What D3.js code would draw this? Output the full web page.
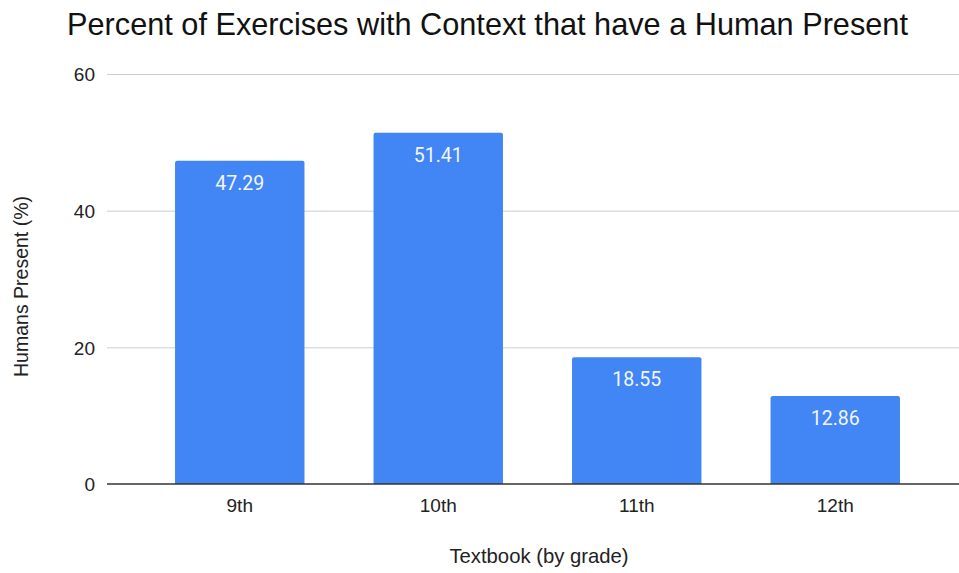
<!DOCTYPE html>
<html>
<head>
<meta charset="utf-8">
<script src="https://cdn.jsdelivr.net/npm/d3@7"></script>
<style>
  html, body { margin: 0; padding: 0; background: #fff; }
  svg { display: block; }
</style>
</head>
<body>
<svg id="chart" width="959" height="573"></svg>
<script>
// Grades and the share of context exercises that show a human
const grades = ["9th", "10th", "11th", "12th"];
const humanPresent = [47.29, 51.41, 18.55, 12.86];
const yTicks = [0, 20, 40, 60];

const W = 959, H = 573;
const plot = { left: 107, right: 959, top: 74, bottom: 484 };

const svg = d3.select("#chart");

const x = d3.scaleBand()
  .domain(grades)
  .range([140.5, 934.5])
  .paddingInner(0.348)
  .paddingOuter(0.174);

const y = d3.scaleLinear()
  .domain([0, 60])
  .range([plot.bottom, plot.top]);

// Gridlines and y tick labels
const yAxis = d3.axisLeft(y)
  .tickValues(yTicks)
  .tickSize(-(plot.right - plot.left))
  .tickPadding(12)
  .tickFormat(d3.format("d"));

const gy = svg.append("g")
  .attr("transform", `translate(${plot.left},0)`)
  .call(yAxis);
gy.select(".domain").remove();
gy.selectAll(".tick line")
  .attr("stroke", "#cccccc")
  .attr("stroke-width", 1);
gy.selectAll(".tick text")
  .attr("fill", "#222")
  .attr("font-family", "'Liberation Sans', Arial, sans-serif")
  .attr("font-size", 19)
  .attr("dy", "0.36em");
gy.selectAll(".tick").filter(d => d === 0).select("line").remove();

// Bars with slightly rounded top corners
function barPath(x0, w, yTop, yBase, r) {
  return `M${x0},${yBase}V${yTop + r}Q${x0},${yTop} ${x0 + r},${yTop}` +
         `H${x0 + w - r}Q${x0 + w},${yTop} ${x0 + w},${yTop + r}V${yBase}Z`;
}

const data = grades.map((g, i) => ({ grade: g, value: humanPresent[i] }));

svg.append("g").selectAll("path")
  .data(data)
  .join("path")
  .attr("d", d => barPath(x(d.grade), x.bandwidth(), y(d.value), y(0), 2))
  .attr("fill", "#4285f4");

// Value labels inside each bar
svg.append("g").selectAll("text")
  .data(data)
  .join("text")
  .attr("x", d => x(d.grade) + x.bandwidth() / 2)
  .attr("y", d => y(d.value) + 29)
  .attr("text-anchor", "middle")
  .attr("fill", "#f2f6ff")
  .attr("font-family", "Roboto, sans-serif")
  .attr("font-size", 19.5)
  .text(d => d.value.toFixed(2));

// Category labels under the baseline
const gx = svg.append("g")
  .attr("transform", `translate(0,${plot.bottom})`)
  .call(d3.axisBottom(x).tickSize(0).tickPadding(15));
gx.select(".domain").remove();
gx.selectAll(".tick text")
  .attr("fill", "#222")
  .attr("font-family", "'Liberation Sans', Arial, sans-serif")
  .attr("font-size", 19);

svg.append("line")
  .attr("x1", plot.left).attr("x2", plot.right)
  .attr("y1", y(0)).attr("y2", y(0))
  .attr("stroke", "#333")
  .attr("stroke-width", 1.3);

// Title and axis titles
svg.append("text")
  .attr("x", 487.5)
  .attr("y", 35)
  .attr("text-anchor", "middle")
  .attr("fill", "#111")
  .attr("font-family", "'Liberation Sans', Arial, sans-serif")
  .attr("font-size", 30.7)
  .text("Percent of Exercises with Context that have a Human Present");

svg.append("text")
  .attr("x", 539)
  .attr("y", 563)
  .attr("text-anchor", "middle")
  .attr("fill", "#222")
  .attr("font-family", "'Liberation Sans', Arial, sans-serif")
  .attr("font-size", 20.3)
  .text("Textbook (by grade)");

svg.append("text")
  .attr("transform", `translate(28,286.5) rotate(-90)`)
  .attr("text-anchor", "middle")
  .attr("fill", "#222")
  .attr("font-family", "'Liberation Sans', Arial, sans-serif")
  .attr("font-size", 19.5)
  .text("Humans Present (%)");
</script>
</body>
</html>
